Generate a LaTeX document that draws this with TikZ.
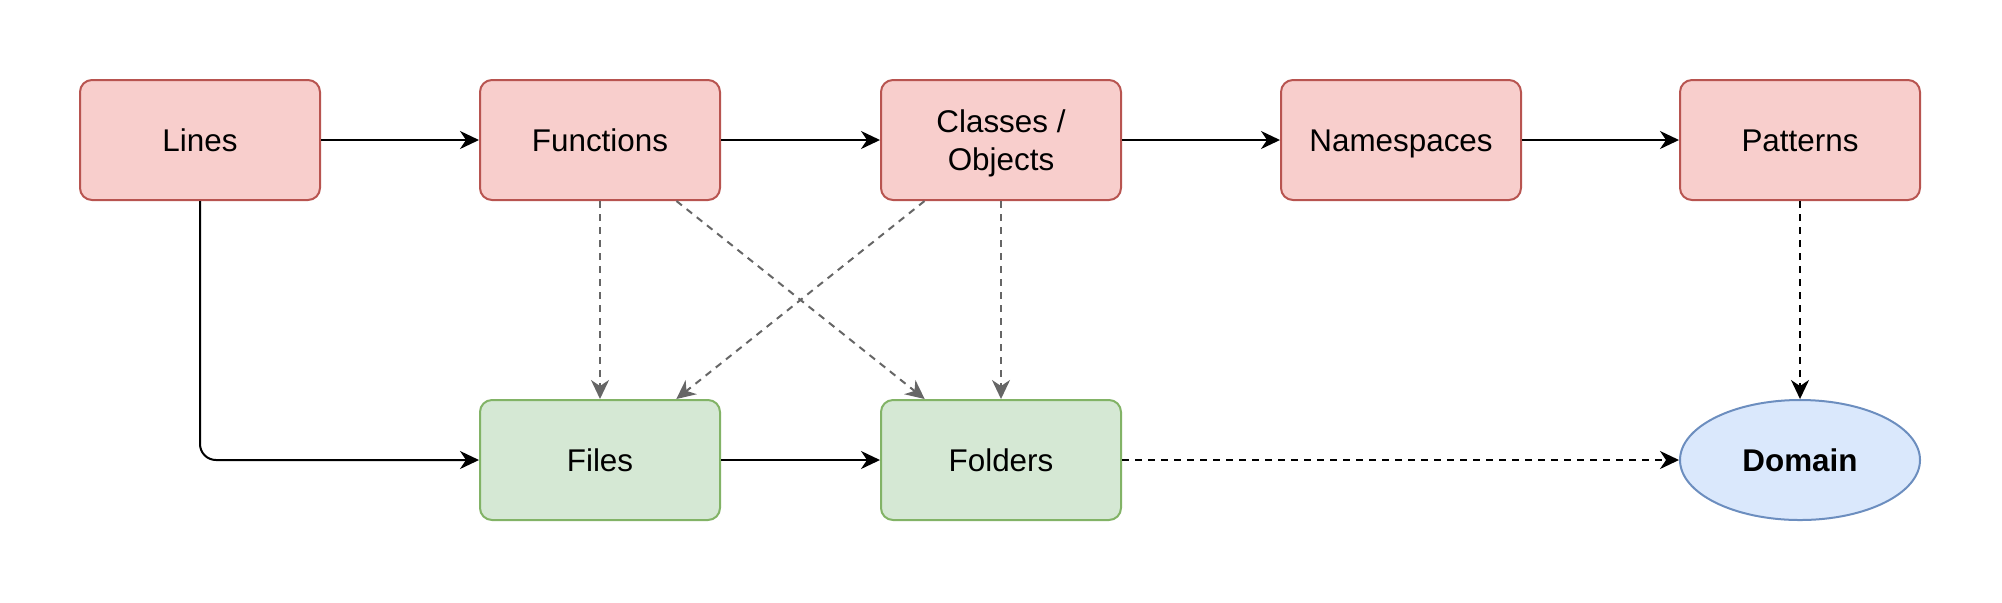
\documentclass[tikz,border=0pt]{standalone}
\usepackage{fontspec}
\setmainfont{Liberation Sans}
\usetikzlibrary{arrows.meta,shapes.geometric}
\definecolor{redfill}{HTML}{F8CECC}
\definecolor{redline}{HTML}{B85450}
\definecolor{greenfill}{HTML}{D5E8D4}
\definecolor{greenline}{HTML}{82B366}
\definecolor{bluefill}{HTML}{DAE8FC}
\definecolor{blueline}{HTML}{6C8EBF}
\definecolor{grayline}{HTML}{666666}
\begin{document}
\begin{tikzpicture}[x=0.5pt,y=-0.5pt,
  base/.style={minimum width=120pt,minimum height=60pt,inner sep=0pt,line width=1pt,align=center,text height=11.2pt,text depth=0pt,font=\fontsize{15.7}{19}\selectfont},
  redbox/.style={base,rectangle,rounded corners=6pt,draw=redline,fill=redfill},
  greenbox/.style={base,rectangle,rounded corners=6pt,draw=greenline,fill=greenfill},
  bluebox/.style={base,ellipse,draw=blueline,fill=bluefill,font=\fontsize{15.7}{19}\selectfont\bfseries},
  tip/.style={-{Stealth[length=9.5pt,width=9pt,inset=3pt]}},
  solidarrow/.style={tip,line width=1pt,draw=black},
  blackdash/.style={tip,line width=1pt,draw=black,dash pattern=on 3.5pt off 3pt},
  graydash/.style={tip,line width=1pt,draw=grayline,dash pattern=on 3.5pt off 3pt}
]
\useasboundingbox (0,0) rectangle (2002,602);
\node[redbox] (lines) at (200,140) {Lines};
\node[redbox] (functions) at (600,140) {Functions};
\node[redbox,text height=30.2pt] (classes) at (1001,140) {Classes /\\Objects};
\node[redbox] (namespaces) at (1401,140) {Namespaces};
\node[redbox] (patterns) at (1800,140) {Patterns};
\node[greenbox] (files) at (600,460) {Files};
\node[greenbox] (folders) at (1001,460) {Folders};
\node[bluebox] (domain) at (1800,460) {Domain};

\draw[solidarrow] (lines) -- (functions);
\draw[solidarrow] (functions) -- (classes);
\draw[solidarrow] (classes) -- (namespaces);
\draw[solidarrow] (namespaces) -- (patterns);
\draw[solidarrow,rounded corners=8pt] (lines.south) |- (files.west);
\draw[solidarrow] (files) -- (folders);
\draw[graydash] (functions) -- (files);
\draw[graydash] (functions) -- (folders);
\draw[graydash] (classes) -- (files);
\draw[graydash] (classes) -- (folders);
\draw[blackdash] (folders) -- (domain);
\draw[blackdash] (patterns) -- (domain);
\end{tikzpicture}
\end{document}
